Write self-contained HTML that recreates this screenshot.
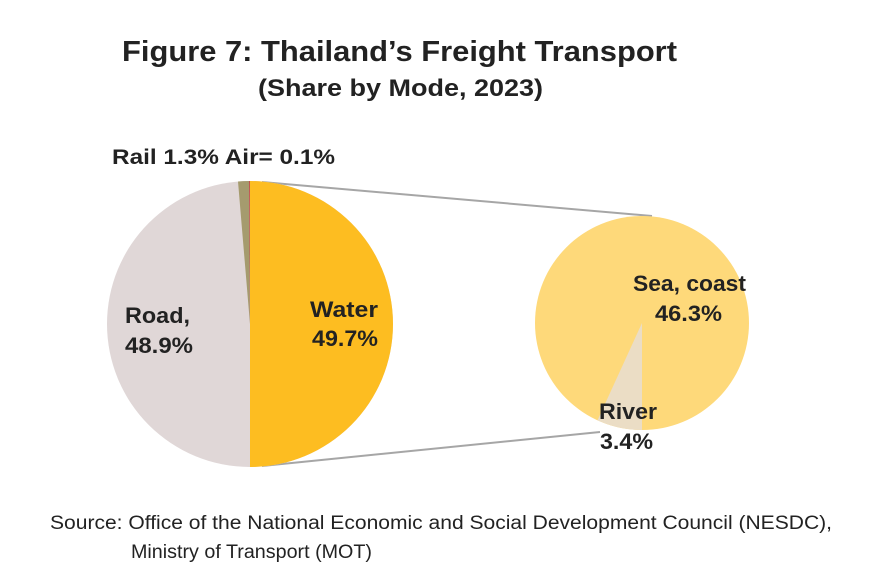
<!DOCTYPE html>
<html><head><meta charset="utf-8"><style>
html,body{margin:0;padding:0;background:#fff;}
svg{display:block;}
text{font-family:"Liberation Sans",sans-serif;fill:#222;}
.b{font-weight:bold;}
</style></head><body>
<svg width="870" height="577" viewBox="0 0 870 577" xmlns="http://www.w3.org/2000/svg">
<rect width="870" height="577" fill="#fff"/>
<text class="b" x="122" y="61" font-size="29" textLength="555" lengthAdjust="spacingAndGlyphs" fill="#333">Figure 7:  Thailand’s  Freight Transport</text>
<text class="b" x="258" y="96" font-size="24" textLength="285" lengthAdjust="spacingAndGlyphs" fill="#333">(Share by Mode, 2023)</text>
<text class="b" x="112" y="164" font-size="21" textLength="223" lengthAdjust="spacingAndGlyphs">Rail 1.3%  Air= 0.1%</text>

<line x1="262" y1="182" x2="652" y2="216" stroke="#a6a6a6" stroke-width="2"/>
<line x1="262" y1="466" x2="600" y2="432" stroke="#a6a6a6" stroke-width="2"/>

<circle cx="250" cy="324" r="143" fill="#E0D7D7"/>
<path d="M250,324 L250,181 A143,143 0 0 1 250,467 Z" fill="#FDBD21"/>
<path d="M250,324 L238,181.5 A143,143 0 0 1 249,181 Z" fill="#A59B6E"/>
<path d="M250,324 L249,181 A143,143 0 0 1 250,181 Z" fill="#C0504D"/>

<circle cx="642" cy="323" r="107" fill="#FED97A"/>
<path d="M642,323 L642,430 A107,107 0 0 1 597.5,420.3 Z" fill="#EBDDC5"/>

<text class="b" x="125" y="323" font-size="22" textLength="65" lengthAdjust="spacingAndGlyphs">Road,</text>
<text class="b" x="125" y="353" font-size="22" textLength="68" lengthAdjust="spacingAndGlyphs">48.9%</text>
<text class="b" x="310" y="317" font-size="22" textLength="68" lengthAdjust="spacingAndGlyphs">Water</text>
<text class="b" x="312" y="346" font-size="22" textLength="66" lengthAdjust="spacingAndGlyphs">49.7%</text>
<text class="b" x="633" y="291" font-size="22" textLength="113" lengthAdjust="spacingAndGlyphs">Sea, coast</text>
<text class="b" x="655" y="321" font-size="22" textLength="67" lengthAdjust="spacingAndGlyphs">46.3%</text>
<text class="b" x="599" y="419" font-size="22" textLength="58" lengthAdjust="spacingAndGlyphs">River</text>
<text class="b" x="600" y="449" font-size="22" textLength="53" lengthAdjust="spacingAndGlyphs">3.4%</text>

<text x="50" y="529" font-size="19" textLength="782" lengthAdjust="spacingAndGlyphs" fill="#111">Source: Office of the National Economic and Social Development Council (NESDC),</text>
<text x="131" y="558" font-size="19" textLength="241" lengthAdjust="spacingAndGlyphs" fill="#111">Ministry of Transport (MOT)</text>
</svg>
</body></html>
